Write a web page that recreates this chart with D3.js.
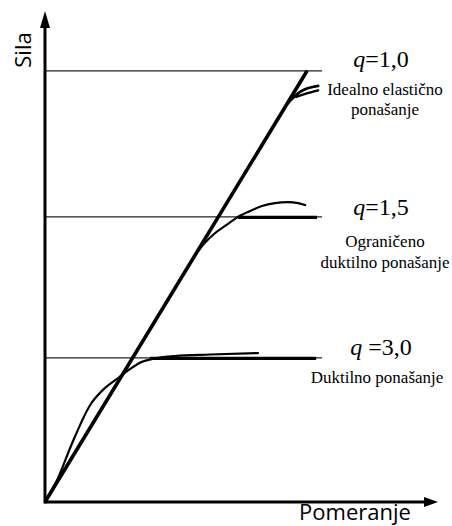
<!DOCTYPE html>
<html>
<head>
<meta charset="utf-8">
<script src="https://cdn.jsdelivr.net/npm/d3@7"></script>
<style>
  body { margin: 0; background: #fff; }
  .serif { font-family: "Liberation Serif", "Times New Roman", "DejaVu Serif", serif; }
  .sans { font-family: "Open Sans", "Noto Sans", sans-serif; }
</style>
</head>
<body>
<div id="chart"></div>
<script>
// podaci procenjeni sa slike (proizvoljne jedinice)
const levelNames = ["q=1,0", "q=1,5", "q =3,0"];
const levelForce = [8.80, 5.82, 2.94];
const levelEnd = 7.05;
const levelDesc = [["Idealno elastično", "ponašanje"], ["Ograničeno", "duktilno ponašanje"], ["Duktilno ponašanje"]];

// idealizovane bilinearne grane
const plateauStart = [null, 4.91, 2.67];
const plateauEnd = [null, 6.92, 6.90];

// elasticna prava
const elasticX = [0, 6.67];
const elasticY = [0, 8.80];

// krive ponasanja
const curve10A_x = [6.18, 6.49, 6.95];
const curve10A_y = [8.14, 8.37, 8.49];
const curve10B_x = [6.39, 6.62, 6.95];
const curve10B_y = [8.27, 8.33, 8.40];

const curve15_x = [3.82, 4.07, 4.33, 4.61, 4.91, 5.22, 5.52, 5.85, 6.18, 6.44, 6.62];
const curve15_y = [5.04, 5.29, 5.49, 5.65, 5.82, 5.94, 6.04, 6.10, 6.12, 6.10, 6.06];

const curve30_x = [0, 0.31, 0.69, 1.15, 1.53, 1.86, 2.16, 2.47, 2.80, 3.31, 4.20, 5.42];
const curve30_y = [0, 0.45, 1.20, 1.98, 2.33, 2.53, 2.71, 2.86, 2.93, 2.98, 3.01, 3.04];

const width = 452;
const height = 526;

var x = d3.scaleLinear().domain([0, 10]).range([45, 438]);
var y = d3.scaleLinear().domain([0, 10]).range([502, 12]);

var svg = d3.select("#chart")
  .append("svg")
  .attr("width", width)
  .attr("height", height);

svg.append("rect")
  .attr("width", width)
  .attr("height", height)
  .attr("fill", "#fff");

var line = d3.line()
  .x(d => x(d[0]))
  .y(d => y(d[1]))
  .curve(d3.curveMonotoneX);

// tanke horizontalne linije nivoa
svg.selectAll(".level")
  .data(levelForce)
  .enter().append("line")
  .attr("x1", x(0))
  .attr("x2", x(levelEnd))
  .attr("y1", d => y(d))
  .attr("y2", d => y(d))
  .attr("stroke", "#222")
  .attr("stroke-width", 1.3);

// debele horizontalne grane
levelForce.forEach(function(f, i) {
  if (plateauStart[i] === null) return;
  svg.append("line")
    .attr("x1", x(plateauStart[i]))
    .attr("x2", x(plateauEnd[i]))
    .attr("y1", y(f) + 0.5)
    .attr("y2", y(f) + 0.5)
    .attr("stroke", "#000")
    .attr("stroke-width", 3.2);
});

// krive
function drawCurve(xs, ys, w) {
  svg.append("path")
    .datum(d3.zip(xs, ys))
    .attr("d", line)
    .attr("fill", "none")
    .attr("stroke", "#000")
    .attr("stroke-width", w)
    .attr("stroke-linecap", "round");
}
drawCurve(curve30_x, curve30_y, 2.2);
drawCurve(curve15_x, curve15_y, 2.2);
drawCurve(curve10A_x, curve10A_y, 2.8);
drawCurve(curve10B_x, curve10B_y, 2.4);

// elasticna prava
svg.append("line")
  .attr("x1", x(elasticX[0]))
  .attr("y1", y(elasticY[0]))
  .attr("x2", x(elasticX[1]))
  .attr("y2", y(elasticY[1]))
  .attr("stroke", "#000")
  .attr("stroke-width", 3.6);

// ose
svg.append("line")
  .attr("x1", x(0)).attr("y1", y(0))
  .attr("x2", 428).attr("y2", y(0))
  .attr("stroke", "#000").attr("stroke-width", 3);
svg.append("line")
  .attr("x1", x(0)).attr("y1", y(0) + 1.5)
  .attr("x2", x(0)).attr("y2", 24)
  .attr("stroke", "#000").attr("stroke-width", 3);
svg.append("path")
  .attr("d", "M438,502 L424,497 L424,507 Z")
  .attr("fill", "#000");
svg.append("path")
  .attr("d", "M45,11 L40,28 L50,28 Z")
  .attr("fill", "#000");

// nazivi osa
svg.append("text")
  .attr("class", "sans")
  .attr("transform", "translate(31,50) rotate(-90)")
  .attr("text-anchor", "middle")
  .attr("font-size", 22)
  .text("Sila");
svg.append("text")
  .attr("class", "sans")
  .attr("x", 355)
  .attr("y", 520)
  .attr("text-anchor", "middle")
  .attr("font-size", 22)
  .text("Pomeranje");

// oznake nivoa
var labelX = 381;
var qBase = [67, 215, 355];
var descBase = [[95, 115], [247, 268], [383]];
levelNames.forEach(function(n, i) {
  var parts = n.split("=");
  var t = svg.append("text")
    .attr("class", "serif")
    .attr("x", labelX)
    .attr("y", qBase[i])
    .attr("text-anchor", "middle")
    .attr("font-size", 24);
  t.append("tspan").attr("font-style", "italic").text(parts[0]);
  t.append("tspan").text("=" + parts[1]);
  levelDesc[i].forEach(function(s, j) {
    svg.append("text")
      .attr("class", "serif")
      .attr("x", labelX + (i === 2 ? -4 : 4))
      .attr("y", descBase[i][j])
      .attr("text-anchor", "middle")
      .attr("font-size", 17)
      .text(s);
  });
});
</script>
</body>
</html>
